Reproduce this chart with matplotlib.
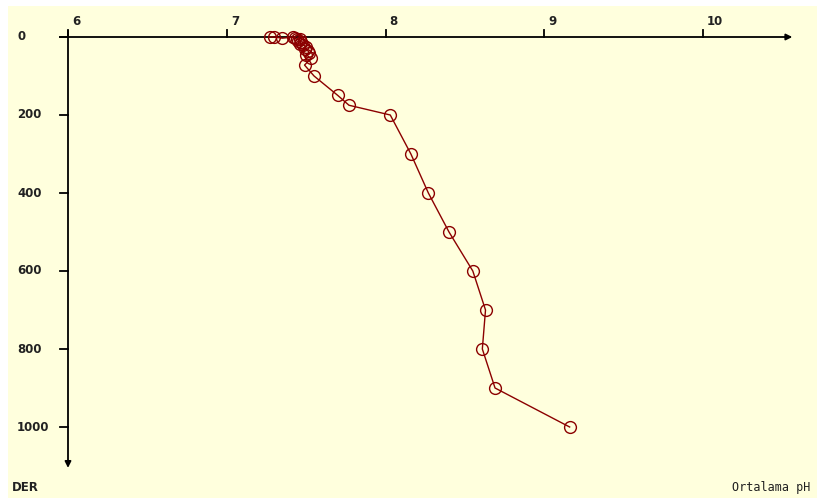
import matplotlib.pyplot as plt

# ortalama pH - derinlik profili
ph = [7.27, 7.30, 7.35, 7.42, 7.43, 7.44, 7.46, 7.45, 7.47, 7.46, 7.48, 7.50, 7.49, 7.51,
      7.52, 7.50, 7.53, 7.49, 7.55,
      7.70, 7.77, 8.03, 8.16, 8.27, 8.40, 8.55, 8.63, 8.61, 8.69, 9.16]
depth = [0, 0, 3, 0, 3, 6, 5, 10, 12, 18, 20, 25, 30, 35,
         40, 45, 55, 72, 100,
         150, 175, 200, 300, 400, 500, 600, 700, 800, 900, 1000]

xticks = [6, 7, 8, 9, 10]
yticks = [0, 200, 400, 600, 800, 1000]

W, H = 817, 498
fig = plt.figure(figsize=(W / 100, H / 100), dpi=100, facecolor='white')
ax = fig.add_axes([8 / W, 0, 1 - 8 / W, 1 - 6 / H])
ax.set_facecolor('#FFFFDD')
for s in ax.spines.values():
    s.set_visible(False)
ax.set_xticks([])
ax.set_yticks([])

px_x = 158.75   # piksel / pH birimi
px_y = 0.39     # piksel / metre
ax.set_xlim(6 - (68 - 8) / px_x, 6 + (817 - 68) / px_x)
ax.set_ylim((498 - 37) / px_y, -(37 - 6) / px_y)

# eksenler
ax.plot([6 - 8 / px_x, 10.53], [0, 0], color='black', lw=1.3, zorder=1)
ax.plot([6, 6], [-16, 1095], color='black', lw=1.3, zorder=1)
ax.annotate('', xy=(10.58, 0), xytext=(10.50, 0),
            arrowprops=dict(arrowstyle='-|>', color='black', lw=1.3, mutation_scale=9))
ax.annotate('', xy=(6, 1112), xytext=(6, 1085),
            arrowprops=dict(arrowstyle='-|>', color='black', lw=1.3, mutation_scale=9))

for t in xticks:
    ax.plot([t, t], [0, -7 / px_y], color='black', lw=1.3)
    ax.text(t + 4 / px_x, -9 / px_y, str(t), fontsize=8.5, ha='left', va='bottom',
            color='#222222', fontweight='bold')

for t in yticks:
    ax.plot([6 - 8 / px_x, 6], [t, t], color='black', lw=1.3)
    ax.text(6 - 51 / px_x, t, str(t), fontsize=8.5, ha='left', va='center',
            color='#222222', fontweight='bold')

ax.plot(ph, depth, color='#8B0000', lw=1, marker='o', markersize=8.5,
        markerfacecolor='none', markeredgecolor='#8B0000', markeredgewidth=1, zorder=3)

fig.text(12 / W, 1 - 487 / H, 'DER', fontsize=8.5, ha='left', va='center',
         color='#222222', fontweight='bold')
fig.text(810 / W, 1 - 487 / H, 'Ortalama pH', fontsize=8.5, ha='right', va='center',
         family='DejaVu Sans Mono', color='#222222')

fig.savefig('out.png', dpi=100, facecolor=fig.get_facecolor())
